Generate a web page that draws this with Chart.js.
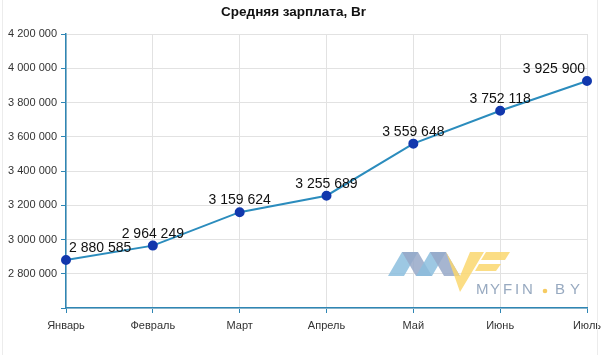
<!DOCTYPE html>
<html>
<head>
<meta charset="utf-8">
<script src="https://cdn.jsdelivr.net/npm/chart.js@4/dist/chart.umd.min.js"></script>
<style>
  html, body { margin: 0; padding: 0; background: #ffffff; }
  #wrap { width: 601px; height: 355px; position: relative; }
</style>
</head>
<body>
<div id="wrap"><canvas id="c" width="601" height="355"></canvas></div>
<script>
const categories = ['Январь', 'Февраль', 'Март', 'Апрель', 'Май', 'Июнь', 'Июль'];
const salaryValues = [2880585, 2964249, 3159624, 3255689, 3559648, 3752118, 3925900];
const yTickValues = [2800000, 3000000, 3200000, 3400000, 3600000, 3800000, 4000000, 4200000];
const chartTitle = 'Средняя зарплата, Br';
const watermarkText = 'MYFIN.BY';

function fmt(v) {
  return String(Math.round(v)).replace(/\B(?=(\d{3})+(?!\d))/g, ' ');
}

const FONT = "'Liberation Sans', Arial, sans-serif";
const AXIS_COLOR = '#2f86b4';
const GRID_COLOR = '#e2e2e2';

const pointLabels = {
  id: 'pointLabels',
  afterDatasetsDraw(chart) {
    const ctx = chart.ctx;
    const area = chart.chartArea;
    const meta = chart.getDatasetMeta(0);
    const data = chart.data.datasets[0].data;
    ctx.save();
    ctx.font = '14px ' + FONT;
    ctx.fillStyle = '#111111';
    ctx.textBaseline = 'alphabetic';
    ctx.textAlign = 'left';
    meta.data.forEach((pt, i) => {
      const txt = fmt(data[i]);
      const w = ctx.measureText(txt).width;
      let x = pt.x - w / 2;
      if (x < area.left + 3) x = area.left + 3;
      if (x + w > area.right - 2) x = area.right - 2 - w;
      ctx.fillText(txt, x, pt.y - 8);
    });
    ctx.restore();
  }
};

const watermark = {
  id: 'watermark',
  beforeDatasetsDraw(chart) {
    const ctx = chart.ctx;
    ctx.save();
    const poly = (pts, color) => {
      ctx.beginPath();
      ctx.moveTo(pts[0][0], pts[0][1]);
      for (let i = 1; i < pts.length; i++) ctx.lineTo(pts[i][0], pts[i][1]);
      ctx.closePath();
      ctx.fillStyle = color;
      ctx.fill();
    };
    const lb = 'rgba(140,190,222,0.85)';
    const gb = 'rgba(150,168,200,0.85)';
    const yl = 'rgba(250,215,110,0.85)';
    poly([[388,276],[402,252],[418,252],[404,276]], lb);
    poly([[402,252],[418,252],[432,276],[416,276]], gb);
    poly([[416,276],[430,252],[446,252],[432,276]], lb);
    poly([[430,252],[446,252],[460,276],[444,276]], gb);
    poly([[446,252],[460,292],[484,252],[470,252],[460,276]], yl);
    poly([[486,252],[510,252],[505,260],[481,260]], yl);
    poly([[479,264],[501,264],[496,271],[475,271]], yl);
    ctx.font = '15px ' + FONT;
    ctx.textBaseline = 'alphabetic';
    ctx.textAlign = 'left';
    const chars = watermarkText.split('');
    const xs = [476, 490, 503, 515, 522, 543, 555, 570];
    chars.forEach((ch, i) => {
      if (ch === '.') {
        ctx.fillStyle = 'rgba(245,200,90,0.95)';
        ctx.beginPath();
        ctx.arc(xs[i] + 2, 291, 2.3, 0, Math.PI * 2);
        ctx.fill();
        return;
      }
      ctx.fillStyle = 'rgba(140,160,185,0.9)';
      ctx.fillText(ch, xs[i], 294);
    });
    ctx.restore();
  },
  afterDraw(chart) {
    const ctx = chart.ctx;
    ctx.save();
    ctx.strokeStyle = '#ececec';
    ctx.lineWidth = 1;
    ctx.beginPath();
    ctx.moveTo(2.5, 0); ctx.lineTo(2.5, 355);
    ctx.moveTo(597.5, 0); ctx.lineTo(597.5, 355);
    ctx.stroke();
    ctx.restore();
  }
};

new Chart(document.getElementById('c'), {
  type: 'line',
  data: {
    labels: categories,
    datasets: [{
      data: salaryValues,
      borderColor: '#2b8cbd',
      borderWidth: 2,
      pointBackgroundColor: '#1238ad',
      pointBorderColor: '#1238ad',
      pointRadius: 4,
      pointHoverRadius: 4,
      tension: 0,
      fill: false
    }]
  },
  options: {
    responsive: false,
    animation: false,
    devicePixelRatio: 1,
    layout: { padding: { left: 0, right: 14, top: 0, bottom: 0 } },
    plugins: {
      legend: { display: false },
      tooltip: { enabled: false },
      title: {
        display: true,
        text: chartTitle,
        color: '#111111',
        font: { family: FONT, size: 13.5, weight: 'bold' },
        padding: { top: 4, bottom: 13.8 }
      }
    },
    scales: {
      x: {
        offset: false,
        grid: { color: GRID_COLOR, tickColor: AXIS_COLOR, tickLength: 5, drawTicks: true },
        border: { color: AXIS_COLOR, width: 1.5 },
        ticks: { color: '#333333', font: { family: FONT, size: 11 }, padding: 6, maxRotation: 0, autoSkip: false },
        afterFit(scale) { scale.height = 47; scale.paddingLeft = 0; scale.paddingRight = 0; }
      },
      y: {
        min: 2600000,
        max: 4200000,
        grid: { color: GRID_COLOR, tickColor: AXIS_COLOR, tickLength: 5 },
        border: { color: AXIS_COLOR, width: 1.5 },
        afterBuildTicks(scale) {
          scale.ticks = [2600000].concat(yTickValues).map(v => ({ value: v }));
        },
        ticks: {
          color: '#333333',
          font: { family: FONT, size: 11 },
          padding: 4,
          callback(v) { return yTickValues.includes(v) ? fmt(v) : ''; }
        },
        afterFit(scale) { scale.width = 66; scale.paddingTop = 0; scale.paddingBottom = 0; }
      }
    }
  },
  plugins: [pointLabels, watermark]
});
</script>
</body>
</html>
